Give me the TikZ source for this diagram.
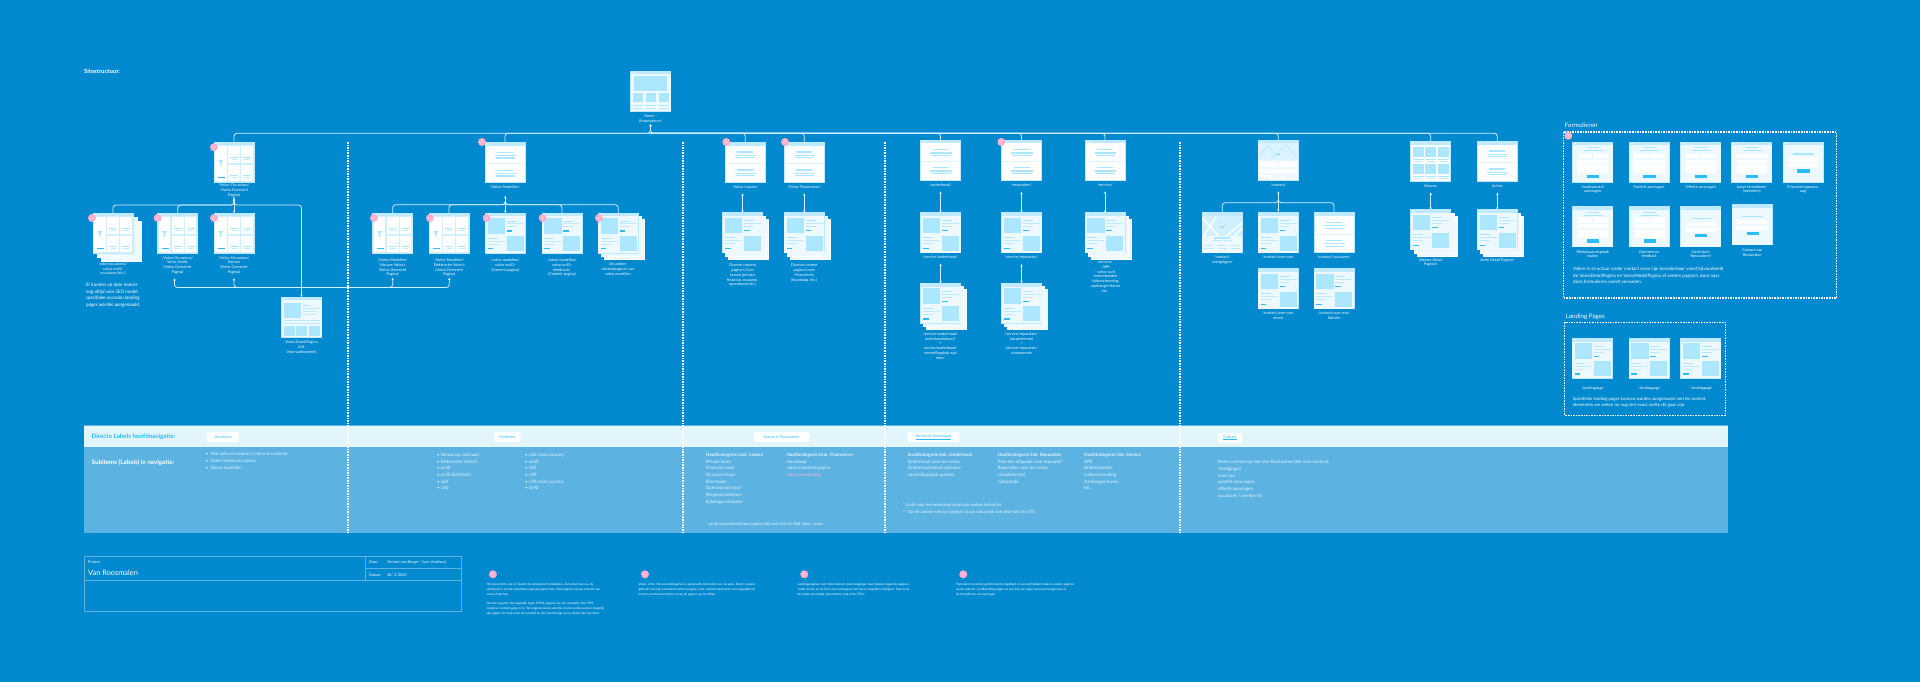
\documentclass[tikz,border=0pt]{standalone}
\usepackage{fontspec}
\setmainfont{Lato}
\usetikzlibrary{positioning,calc,arrows.meta}

\definecolor{sitebg}{HTML}{0089CF}
\definecolor{bandlight}{HTML}{E2F5FD}
\definecolor{bandmid}{HTML}{5CB3E2}
\definecolor{pagebar}{HTML}{BDEAFF}
\definecolor{pagepale}{HTML}{EDF9FF}
\definecolor{pageblue}{HTML}{ADE6FF}
\definecolor{pagebtn}{HTML}{2BBDFA}
\definecolor{linecol}{HTML}{D4F0FF}
\definecolor{dotpink}{HTML}{FFB0CC}
\definecolor{navcyan}{HTML}{25BCF5}

% ----- page thumbnails -----
\tikzset{
  pagetop/.pic={
    \fill[pagebar] (0,0) rectangle (40,3.3);
    \foreach \dx in {1.5,3,4.5} \fill[white] (\dx,1.6) circle (.45);
  },
  pics/listpage/.style={code={
    \fill[pagebar!70] (0,0) rectangle (40,40);
    \pic {pagetop};
    \fill[white] (1,4.3) rectangle (12.6,39);
    \foreach \cx/\cy in {14.3/4.3,27/4.3,14.3/22.6,27/22.6} {
      \fill[white] (\cx,\cy) rectangle +(11.7,16.4);
      \fill[pageblue] ($(\cx,\cy)+(1.8,10.6)$) rectangle +(8,1);
      \fill[pagebar] ($(\cx,\cy)+(3.2,12.8)$) rectangle +(5.3,.8);
    }
    \fill[pageblue] (4.4,18) -- (9.2,18) -- (7.4,21) -- (7.4,24) -- (6.2,24) -- (6.2,21) -- cycle;
    \fill[pagebtn] (4,34.6) rectangle (11,36);
  }},
  pics/textpage/.style={code={
    \pic {pagetop};
    \fill[pagebar!50] (0,20.8) rectangle (40,21.4);
    \foreach \dy in {0,18} {
      \fill[pageblue] (12,9.2+\dy) rectangle (28,10.4+\dy);
      \fill[pageblue] (9.5,12.4+\dy) rectangle (31,13.6+\dy);
      \fill[pageblue] (10.5,15+\dy) rectangle (30,16.2+\dy);
    }
  }},
  pics/contentpage/.style={code={
    \fill[pagepale] (0,0) rectangle (40,40);
    \pic {pagetop};
    \fill[pageblue] (2.3,5) rectangle (19.7,20.7);
    \fill[pageblue] (21.3,23) rectangle (38.3,38);
    \fill[pageblue] (21.3,7.5) rectangle (31.3,8.7);
    \fill[pagebar] (21.3,10.4) rectangle (38.3,11.2);
    \fill[pagebar] (21.3,13.2) rectangle (31.3,14);
    \fill[pagebtn] (21.3,17.4) rectangle (27,18.7);
    \fill[pageblue] (2.3,24.5) rectangle (12.3,25.7);
    \fill[pagebar] (2.3,27.6) rectangle (19.3,28.4);
    \fill[pagebar] (2.3,30.6) rectangle (12.3,31.4);
    \fill[pagebtn] (2.3,34.9) rectangle (8,36.2);
  }},
  pics/homepage/.style={code={
    \fill[pagepale] (0,0) rectangle (40,40);
    \pic {pagetop};
    \fill[pageblue] (3.7,5) rectangle (36.7,20.3);
    \foreach \cx in {2,15,28} {
      \fill[pageblue] (\cx,22) rectangle +(10.8,9.3);
      \fill[pageblue] (\cx,33.6) rectangle +(10.8,1);
      \fill[pagebar] (\cx,36.6) rectangle +(10.8,1);
    }
  }},
  pics/detailpage/.style={code={
    \fill[pagepale] (0,0) rectangle (40,40);
    \pic {pagetop};
    \fill[pageblue] (2,5.7) rectangle (19.3,21);
    \fill[pageblue] (21,7.8) rectangle (28.7,9);
    \fill[pagebar] (21,10.6) rectangle (38,11.4);
    \fill[pagebar] (21,13.6) rectangle (35,14.6);
    \fill[pagebar] (21,16.6) rectangle (35,17.6);
    \fill[pagebar] (2,23) rectangle (38,24);
    \fill[pagebar] (2,25.8) rectangle (38,26.8);
    \foreach \cx in {2,14.7,27.7} \fill[pageblue] (\cx,29) rectangle +(11,10);
  }},
  pics/mappage/.style={code={
    \fill[pagepale] (0,0) rectangle (40,40);
    \fill[pagebar!55] (0,0) rectangle (40,20);
    \pic {pagetop};
    \draw[pageblue,line width=.5pt] (1,15) -- (9,6) -- (18,16) (12,19) -- (28,5) -- (38,17);
    \fill[pagebtn] (20,15.5) -- (18,12.5) arc[start angle=180,end angle=0,radius=2] -- cycle;
    \fill[white] (20,12.4) circle (.7);
    \fill[white] (1.5,22.3) rectangle (19,26.7);
    \fill[white] (21,22.3) rectangle (38.5,26.7);
    \fill[white] (1.5,29) rectangle (38.5,33.4);
    \fill[white] (1.5,35.4) rectangle (14,38.4);
  }},
  pics/placespage/.style={code={
    \fill[pagepale] (0,0) rectangle (40,40);
    \fill[pagebar!70] (0,3) rectangle (40,23);
    \pic {pagetop};
    \draw[white,line width=1.4pt] (0,5) -- (16,23) (14,3) -- (2,23) (24,23) -- (40,10) (32,23) -- (40,16);
    \fill[pagebtn] (20,15.5) -- (18,12.5) arc[start angle=180,end angle=0,radius=2] -- cycle;
    \fill[white] (20,12.4) circle (.7);
    \fill[pageblue] (12,24.6) rectangle (28,25.8);
    \fill[pagebar] (10,27.4) rectangle (30,28.4);
    \foreach \cx in {2,15.5,29} {
      \fill[pagebar] (\cx,31.8) rectangle +(9,.9);
      \fill[pagebar] (\cx,34.8) rectangle +(9,.9);
    }
  }},
  pics/gridpage/.style={code={
    \pic {pagetop};
    \foreach \cx in {2,14.7,27.4} \foreach \cy in {6,23} {
      \fill[pageblue] (\cx,\cy) rectangle +(10.8,10);
      \fill[pageblue] (\cx,\cy+11.3) rectangle +(10.8,1);
      \fill[pagebar] ($(\cx,\cy)+(1.5,13.6)$) rectangle +(8,.9);
    }
  }},
  pics/formpage/.style={code={
    \fill[pagepale] (0,0) rectangle (40,40);
    \pic {pagetop};
    \fill[pageblue] (14,5.2) rectangle (26.7,6.2);
    \fill[pageblue] (11.3,7.9) rectangle (30,8.8);
    \fill[white] (5.3,11.7) rectangle (19.7,16.3);
    \fill[white] (21.7,11.7) rectangle (35.7,16.3);
    \fill[white] (5.3,17.7) rectangle (35.7,21.7);
    \fill[white] (5.3,23.3) rectangle (35.7,31);
    \fill[pagebtn] (14.3,32.7) rectangle (26.7,36.3);
  }},
  pics/shortform/.style={code={
    \fill[pagepale] (0,0) rectangle (40,40);
    \pic {pagetop};
    \fill[pageblue] (10,11.4) rectangle (30.3,12.6);
    \fill[white] (5,15) rectangle (35,19.7);
    \fill[white] (5,21.3) rectangle (35,25.3);
    \fill[pagebtn] (14.3,27) rectangle (26.7,30.7);
  }},
}

\newcommand{\sitepage}[4]{%
  \node[sheet] (#1) at (#2,#3) {};
  \pic at (#1.north west) {#4};
}
\newcommand{\sitestack}[5][3]{%
  \foreach \n in {2,1} \draw[backsheet] ({#3+\n*#1},{#4+\n*#1}) rectangle +(40,40);
  \sitepage{#2}{#3}{#4}{#5}
}

\begin{document}
\begin{tikzpicture}[x=1pt,y=-1pt,>={Stealth[length=2.4pt,width=2.6pt]},
  sheet/.style={draw=pagebar,fill=white,line width=.5pt,minimum width=40pt,minimum height=40pt,inner sep=0pt,outer sep=0pt,anchor=north west},
  backsheet/.style={draw=white,fill=pagepale,line width=.4pt},
  link/.style={draw=linecol,line width=.8pt,rounded corners=3pt},
  divider/.style={white,line width=1.2pt,dash pattern=on 1.6pt off 1pt},
  lbl/.style={white,font=\fontsize{3.8}{4.8}\selectfont,align=center,anchor=north,inner sep=0pt},
  pinkdot/.style={circle,fill=dotpink,text=white,minimum size=8pt,inner sep=0pt,font=\fontsize{3}{3}\selectfont},
  pill/.style={fill=white,rounded corners=1.5pt,text=navcyan,minimum height=10pt,inner sep=0pt,font=\fontsize{3.8}{4.8}\selectfont},
  navhead/.style={navcyan,anchor=west,inner sep=0pt,font=\fontsize{6.2}{7}\selectfont\bfseries},
  navlist/.style={bandlight,anchor=north west,align=left,inner sep=0pt,font=\fontsize{4.5}{6.67}\selectfont},
  title/.style={white,anchor=west,inner sep=0pt,font=\fontsize{6.2}{7}\selectfont},
  bodytxt/.style={white,anchor=north west,align=left,inner sep=0pt,font=\fontsize{4.6}{6.7}\selectfont},
  smalltxt/.style={white,anchor=north west,align=left,inner sep=0pt,font=\fontsize{3.1}{4.8}\selectfont},
]
  % ----- canvas -----
  \fill[sitebg] (0,0) rectangle (1920,682);
  \useasboundingbox (0,0) rectangle (1920,682);

  % ----- navigation bands -----
  \fill[bandmid] (83.5,447.5) rectangle (1728,532.7);
  \fill[bandlight] (83.5,425.5) rectangle (1728,447.5);
  \draw[bandmid,line width=.5pt] (83.5,425.5) -- (1728,425.5) (83.5,447.5) -- (1728,447.5);

  % ----- column dividers -----
  \foreach \xd in {348,683,885,1180} \draw[divider] (\xd,142) -- (\xd,533);

  \node[title,font=\fontsize{5.9}{7}\selectfont\bfseries] (sitetitle) at (84,71) {Sitestructuur:};

  % ----- home -----
  \sitepage{home}{630.5}{71}{homepage}
  \node[lbl] (home-l) at (650.5,115) {Home -\\Roosmalen.nl};

  % ----- occasions -----
  \sitepage{occ}{214}{142}{listpage}
  \node[lbl] (occ-l) at (234,184) {/Volvo-Occasions/\\/Volvo Overzicht\\Pagina)};
  \sitestack[4]{c1}{93}{213}{listpage}
  \node[lbl] (c1-l) at (113,262.2) {volvo-occasions/\\volvo-xc60/\\occasions (etc.)};
  \sitepage{c2}{157.7}{213}{listpage}
  \node[lbl] (c2-l) at (177.5,256) {/Volvo-Occasions/\\Volvo Selekt\\(Volvo Overzicht\\Pagina)};
  \sitepage{c3}{214}{213}{listpage}
  \node[lbl] (c3-l) at (234,256) {/Volvo-Occasions/\\Demo's\\(Volvo Overzicht\\Pagina)};
  \sitepage{detail}{281.5}{297}{detailpage}
  \node[lbl] (detail-l) at (301.5,340.5) {Volvo Detail Pagina\\(Uit\\Voorraadsysteem)};
  \node[bodytxt,font=\fontsize{4.8}{6.7}\selectfont\itshape] (seonote) at (86,282.6) {Er kunnen op deze manier\\nog altijd voor SEO model-\\specifieke occasion landing\\pages worden aangemaakt.};

  % ----- modellen -----
  \sitepage{models}{485}{142.5}{textpage}
  \node[lbl] (models-l) at (505,185.5) {/Volvo-Modellen/};
  \sitepage{m1}{372.7}{213}{listpage}
  \node[lbl] (m1-l) at (392.7,258.5) {/Volvo-Modellen/\\Nieuwe Volvo's\\(Volvo Overzicht\\Pagina)};
  \sitepage{m2}{429}{213}{listpage}
  \node[lbl] (m2-l) at (449.3,258.5) {/Volvo-Modellen/\\Elektrische Volvo's\\(Volvo Overzicht\\Pagina)};
  \sitepage{m3}{485.3}{213}{contentpage}
  \node[lbl] (m3-l) at (505.3,258.5) {/volvo-modellen/\\volvo-xc40/\\(Content pagina)};
  \sitepage{m4}{542}{213}{contentpage}
  \node[lbl] (m4-l) at (562,258.5) {/volvo-modellen/\\volvo-xc40-\\elektrisch/\\(Content pagina)};
  \sitestack{m5}{598.3}{213}{contentpage}
  \node[lbl] (m5-l) at (618,262.5) {De andere\\contentpagina's van\\volvo modellen};

  % ----- leasen en financieren -----
  \sitepage{lease}{725.3}{142.3}{textpage}
  \node[lbl] (lease-l) at (745,185.5) {/Volvo-Leasen/};
  \sitepage{fin}{784.3}{142.3}{textpage}
  \node[lbl] (fin-l) at (804.3,185.5) {/Volvo-Financieren/};
  \sitestack{leases}{722.5}{212.7}{contentpage}
  \node[lbl] (leases-l) at (742.7,263.8) {Diverse content\\pagina's Over\\Leasen (private,\\financial, occasion,\\operational etc.)};
  \sitestack{fins}{784.3}{212.7}{contentpage}
  \node[lbl] (fins-l) at (804.3,263.8) {Diverse content\\pagina's over\\Financieren\\(huurkoop, etc.)};

  % ----- onderhoud, reparaties, service -----
  \sitepage{onder}{920.5}{140}{textpage}
  \node[lbl] (onder-l) at (940.5,183.5) {/onderhoud/};
  \sitepage{onders}{920.5}{212.7}{contentpage}
  \node[lbl] (onders-l) at (940.5,255.8) {/service/onderhoud/};
  \sitestack{onderd}{920.5}{283.3}{contentpage}
  \node[lbl] (onderd-l) at (940.5,332.2) {/service/onderhoud/\\onderhoudsbeurt/\\+\\service/onderhoud/\\versnellingsbak-spo\\elen/};
  \sitepage{repar}{1001.5}{140}{textpage}
  \node[lbl] (repar-l) at (1021.5,183.5) {/reparaties/};
  \sitepage{repars}{1001.5}{212.7}{contentpage}
  \node[lbl] (repars-l) at (1021.5,255.8) {/service/reparaties/};
  \sitestack{repard}{1001.5}{283.3}{contentpage}
  \node[lbl] (repard-l) at (1021.5,332.2) {/service/reparaties/\\schadeherstel\\+\\/service/reparaties/\\ruitreparatie};
  \sitepage{service}{1085}{140}{textpage}
  \node[lbl] (service-l) at (1105,183.5) {/service/};
  \sitestack{services}{1085}{212.7}{contentpage}
  \node[lbl] (services-l) at (1105,260.5) {/service/\\- APK\\- volvo-card\\-winterbanden\\-lakbescherming\\-aanhanger-huren\\etc.};

  % ----- contact -----
  \sitepage{contact}{1258.3}{140}{mappage}
  \node[lbl] (contact-l) at (1278.3,183.5) {/contact/};
  \sitepage{places}{1202.3}{212.7}{placespage}
  \node[lbl] (places-l) at (1222.3,255.8) {/contact/\\vestigingen/};
  \sitepage{over}{1258.3}{212.7}{contentpage}
  \node[lbl] (over-l) at (1278.3,255.8) {/contact/over-ons/};
  \sitepage{vac}{1314}{212.7}{textpage}
  \node[lbl] (vac-l) at (1334,255.8) {/contact/vacatures/};
  \sitepage{missie}{1258.3}{268.7}{contentpage}
  \node[lbl] (missie-l) at (1278.3,311.5) {/contact/over-ons/\\missie};
  \sitepage{hist}{1314}{268.7}{contentpage}
  \node[lbl] (hist-l) at (1334,311.5) {/contact/over-ons/\\historie};

  % ----- nieuws en acties -----
  \sitepage{nieuws}{1410.7}{141.3}{gridpage}
  \node[lbl] (nieuws-l) at (1430.7,184.8) {Nieuws};
  \sitestack{nieuwss}{1410.7}{209.7}{contentpage}
  \node[lbl] (nieuwss-l) at (1430.7,258.2) {Nieuws Detail\\Pagina's};
  \sitepage{acties}{1477.3}{141.3}{textpage}
  \node[lbl] (acties-l) at (1497.3,184.8) {Acties};
  \sitestack{actiess}{1477.3}{209.7}{contentpage}
  \node[lbl] (actiess-l) at (1497.3,258.2) {Actie Detail Pagina's};

  % ----- connectors -----
  \coordinate (mainbus) at (650.5,133.3);
  \coordinate (occbus) at (234,205);
  \coordinate (lowbus) at (301.5,287.5);
  \coordinate (modelbus) at (505.3,204.7);
  \coordinate (contactbus) at (1278.3,202.7);

  \draw[link,<-,shorten <=1pt] (home-l.south) |- (occ.north |- mainbus) -- (occ.north);
  \draw[link,<-,shorten <=1pt] (home-l.south) |- (acties.north |- mainbus) -- (acties.north);
  \foreach \pg in {models,lease,fin,onder,repar,service,contact,nieuws}
    \draw[link] (\pg.north) |- (mainbus);

  % occasions tree
  \draw[link,<->,shorten <=1pt] (occ-l.south) -- (c3.north);
  \foreach \pg in {c1,c2}
    \draw[link] (occ-l.south) |- (occbus -| \pg.north) -- (\pg.north);
  \draw[link,->] (occ-l.south) |- (occbus -| detail.north) -- (detail.north);
  \draw[link,<->,shorten <=4pt,shorten >=1pt] ([xshift=-3pt]c2-l.south) |- (lowbus -| m2-l.south) -- (m2-l.south);
  \draw[link,<-,shorten <=4pt] (c3-l.south) |- (lowbus);
  \draw[link,<-,shorten <=1pt] (m1-l.south) |- (lowbus);

  % modellen tree
  \draw[link,<->,shorten <=7pt] (m3.north |- models-l.south) -- (m3.north);
  \foreach \pg in {m1,m2,m4,m5}
    \draw[link] (m3.north |- modelbus) ++(0,-3) |- (modelbus -| \pg.north) -- (\pg.north);

  % single child links
  \foreach \up/\dn in {lease-l/leases,fin-l/fins,onder-l/onders,repar-l/repars,service-l/services,nieuws-l/nieuwss,acties-l/actiess}
    \draw[link,<->,shorten <=4.5pt] (\dn.north |- \up.south) -- (\dn.north);
  \foreach \up/\dn in {onders-l/onderd,repars-l/repard}
    \draw[link,<->,shorten <=4.5pt] (\dn.north |- \up.south) -- (\dn.north);

  % contact tree
  \draw[link,<->,shorten <=4.5pt,shorten >=1pt] (contact-l.south) -- (over.north);
  \foreach \pg in {places,vac}
    \draw[link] (contactbus) ++(0,-3) |- (contactbus -| \pg.north) -- (\pg.north);

  % ----- formulieren -----
  \node[title] (form-t) at (1564.7,125) {Formulieren};
  \draw[divider] (1563.3,132) rectangle (1836.7,298);
  \sitepage{f1}{1572.7}{142}{formpage}
  \node[lbl] (f1-l) at (1592.7,185.2) {Inruilvoorstel\\aanvragen};
  \sitepage{f2}{1629}{142}{formpage}
  \node[lbl] (f2-l) at (1649,185.2) {Proefrit aanvragen};
  \sitepage{f3}{1680.7}{142}{formpage}
  \node[lbl] (f3-l) at (1700.7,185.2) {Offerte aanvragen};
  \sitepage{f4}{1731.7}{142}{formpage}
  \node[lbl] (f4-l) at (1751.7,185.2) {Lease formulieren\\(meerdere)};
  \sitepage{f5}{1783}{142}{shortform}
  \node[lbl] (f5-l) at (1803,185.2) {Financieringsaanvr\\aag};
  \sitepage{f6}{1572.7}{206.7}{formpage}
  \node[lbl] (f6-l) at (1592.7,250.2) {Werkplaatsafspraak\\maken};
  \sitepage{f7}{1629.3}{206.7}{formpage}
  \node[lbl] (f7-l) at (1649.3,250.2) {Klachten en\\feedback};
  \sitepage{f8}{1680.7}{206.7}{shortform}
  \node[lbl] (f8-l) at (1700.7,250.2) {Inschrijven\\Nieuwsbrief};
  \sitepage{f9}{1732.3}{204.7}{shortform}
  \node[lbl] (f9-l) at (1752.3,248.5) {Contact van\\Roosmalen};
  \node[bodytxt] (form-n) at (1573,266.8) {Vallen in structuur onder contact maar zijn benaderbaar vanaf bijvoorbeeld\\de VolvoDetailPagina en VolvoModelPagina of andere pagina's waar naar\\deze formulieren wordt verwezen.};

  % ----- landing pages -----
  \node[title] (land-t) at (1565.7,316.7) {Landing Pages};
  \draw[divider] (1564.7,322.3) rectangle (1725.3,415.3);
  \sitepage{l1}{1572.3}{338.3}{contentpage}
  \node[lbl] (l1-l) at (1592.7,386.8) {/landingpage};
  \sitepage{l2}{1629}{338.3}{contentpage}
  \node[lbl] (l2-l) at (1649,386.8) {/landingpage};
  \sitepage{l3}{1680.7}{338.3}{contentpage}
  \node[lbl] (l3-l) at (1701,386.8) {/landingpage};
  \node[bodytxt,font=\fontsize{4.4}{6.4}\selectfont] (land-n) at (1572.7,396.8) {Specifieke landing pages kunnen worden aangemaakt met de content\\elementen we weten nu nog niet exact welke dit gaan zijn.};

  % ----- navigatie -----
  \node[navhead] (nav-a) at (91.5,436.7) {Directe Labels hoofdnavigatie:};
  \node[navhead,white] (nav-b) at (91.5,463) {Subitems (Labels) in navigatie:};
  \node[pill,minimum width=32pt] (p-occ) at (223,437) {Occasions};
  \node[pill,minimum width=26.5pt] (p-mod) at (507.3,437) {Modellen};
  \node[pill,minimum width=55pt] (p-lease) at (781.5,437) {Leasen \& Financieren};
  \node[pill,minimum width=51.6pt] (p-serv) at (933.5,437.3) {\underline{Service \& Onderhoud}};
  \node[pill,minimum width=24pt] (p-cont) at (1230,437.8) {\underline{Contact}};

  \node[navlist] (n-occ) at (205.5,452) {• \ Alle volvo occasions (/volvo-occasions)\\• \ Volvo-Selekt occasions\\• \ Demo modellen};
  \node[navlist] (n-mod1) at (437,453) {• Nieuw op voorraad\\• Elektrische Volvo's\\• xc40\\• xc40 Elektrisch\\• s60\\• v60};
  \node[navlist] (n-mod2) at (525,453) {• v60 cross country\\• xc60\\• s90\\• v90\\• v90 cross country\\• xc90};
  \node[navlist] (n-lease) at (705.7,453) {\textbf{Hoofdcategorie Link: Leasen}\\Private lease\\Financial lease\\Occasion lease\\Shortlease\\Operational lease*\\Wagenparkbeheer\\bijtalingscalculator};
  \node[navlist] (n-fin) at (786.3,453) {\textbf{Hoofdcategorie Link: Financieren}\\Huurkoop\\volvo investeringsplan\\\textcolor{dotpink}{volvo verzekering}};
  \node[navlist,font=\fontsize{4.3}{6.67}\selectfont\itshape] (n-leasenote) at (705.7,521.7) {* op de operational lease pagina info over Full en Nett Oper. Lease};
  \node[navlist] (n-ond) at (907.7,453) {\textbf{hoofdcategorie link: Onderhoud}\\Onderhoud voor uw volvo\\Onderhoudsbeurt plannen*\\versnellingsbak spoelen};
  \node[navlist] (n-rep) at (997.7,453) {\textbf{Hoofdcategorie link: Reparaties}\\Plan een afspraak voor reparatie*\\Reparaties voor uw volvo\\schadeherstel\\ruitschade};
  \node[navlist] (n-serv) at (1084,453) {\textbf{Hoofdcategorie link: Service}\\APK\\Winterbanden\\Lakbescherming\\Aanhanger-huren\\etc.};
  \node[navlist,font=\fontsize{4.3}{6.4}\selectfont] (n-servnote) at (903,503.3) {* Linkt naar het werkplaatsafspraak maken formulier\\** Op de andere service pagina's staan natuurlijk ook deze link als CTA};
  \node[navlist] (n-cont) at (1218,460) {Neem contact op met Van Roosmalen (link naar contact)\\Vestigingen\\over-ons\\proefrit aanvragen\\offerte aanvragen\\vacatures / werken bij};

  % ----- project table -----
  \draw[bandmid,line width=.8pt] (84.3,556.3) rectangle (461.8,611.3);
  \draw[bandmid,line width=.8pt] (84.3,580.7) -- (461.8,580.7) (365.4,556.3) -- (365.4,580.7) (365.4,568.7) -- (461.8,568.7);
  \node[title,font=\fontsize{3.8}{5}\selectfont] (t-proj) at (88,562.7) {Project};
  \node[title,font=\fontsize{7.4}{9}\selectfont] (t-name) at (88,573) {Van Roosmalen};
  \node[title,font=\fontsize{3.8}{5}\selectfont] (t-door) at (369,562.4) {Door:};
  \node[title,font=\fontsize{3.8}{5}\selectfont] (t-who) at (386.8,562.4) {Vincent van Berger / Lars Voorhout};
  \node[title,font=\fontsize{3.8}{5}\selectfont] (t-dat) at (369,574.7) {Datum:};
  \node[title,font=\fontsize{3.8}{5}\selectfont] (t-when) at (386.8,574.7) {30/ 2/2020};

  % ----- notes -----
  \node[pinkdot] (note1) at (492.9,574.3) {1};
  \node[smalltxt] (note1-t) at (486.4,583.2) {Het overzicht is als in 't kader de component te bekijken. Zo kunnen we o.a. de\\setting die u zonder specifieke eigenschappen ziet. Met pagina's op een selectie van\\volvo's later kan.\\[4.8pt]Om een pagina's met eigenlijk eigen HTML pagina's op een overzicht voor SEO\\creatieve content gang zo is. Vervolgens kan de selectie of iets in elke aanzien mogelijk\\zijn pagina. En zoals men de in beeld en die inzicht krijgt op te vinden dan overzicht};
  \node[pinkdot] (note2) at (645,574.3) {2};
  \node[smalltxt] (note2-t) at (638.3,583.2) {Volvo- of de Volvo-modelpagina's is aangevuld informatie over de auto. Deze is vooral\\gebruikt om mijn standaard content pagina's met content elementen van mogelijkheid\\kunnen overkomen tijdens en op de pagina. op te stellen.};
  \node[pinkdot] (note3) at (804.3,574.3) {3};
  \node[smalltxt] (note3-t) at (797.3,583.2) {Landingspagina's met informatie en doorvraagingen naar diepere liggende pagina's.\\Vanaf de site en uit het front-end pagina met de zo mogelijk te bekijken. Hierna op\\het kader bevestigd, presenteren, pak af de CTA's.};
  \node[pinkdot] (note4) at (963.3,574.3) {4};
  \node[smalltxt] (note4-t) at (956,583.2) {Formulieren worden geïnformeerd, ingeklapt en overzichtelijker zoals in andere pagina's\\op de website. In afbeelding krijgen ze een link aan eigen layout per pagina die zij\\de formulieren van opvragen.};

  % ----- page markers -----
  \foreach \nm/\xa/\ya/\num in {occ/214/147.3/1,c1/92/218/1,c2/157.7/218/1,c3/214/218/1,
    models/482/142/3,m1/374/218/1,m2/430/218/1,m3/486.7/218/2,m4/542.7/218/2,m5/599/218/2,
    lease/726.3/142/3,fin/785/142/3,repar/1001.3/142/3,form/1568.3/135.7/4}
    \node[pinkdot] (dot-\nm) at (\xa,\ya) {\num};
\end{tikzpicture}
\end{document}
